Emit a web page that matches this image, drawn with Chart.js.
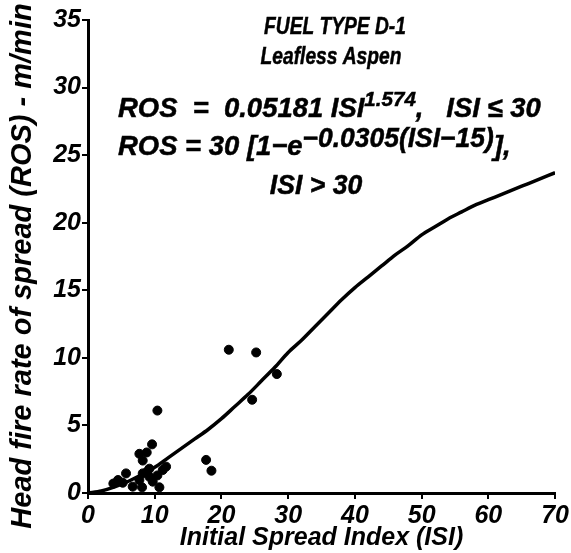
<!DOCTYPE html>
<html>
<head>
<meta charset="utf-8">
<script src="https://cdn.jsdelivr.net/npm/chart.js@4"></script>
<style>
    html, body { margin: 0; padding: 0; background: #fff; }
    #wrap { position: relative; width: 571px; height: 553px; }
</style>
</head>
<body>
<div id="wrap"><canvas id="ros"></canvas></div>
<script>
// Fitted D-1 curve
const curveIsi = [0, 2, 4, 6, 8, 10, 12, 14, 16, 18, 20, 22, 24, 26, 28, 30, 32, 34, 36, 38, 40, 42, 44, 46, 48, 50, 52, 54, 56, 58, 60, 62, 64, 66, 68, 70];
const curveRos = [0, 0.15, 0.45, 0.85, 1.35, 1.9, 2.6, 3.3, 4.0, 4.7, 5.5, 6.4, 7.3, 8.3, 9.3, 10.4, 11.3, 12.3, 13.3, 14.3, 15.2, 16.0, 16.8, 17.6, 18.3, 19.1, 19.7, 20.3, 20.8, 21.3, 21.7, 22.1, 22.5, 22.9, 23.3, 23.7];

// Observed fires
const obsIsi = [9.6, 7.7, 8.8, 8.2, 17.7, 18.5, 5.7, 4.5, 3.8, 5.2, 6.7, 7.7, 8.2, 8.9, 9.2, 9.7, 10.4, 11.2, 11.7, 8.1, 10.7, 9.2, 10.4, 21.1, 25.2, 28.3, 24.6];
const obsRos = [3.6, 2.9, 3.0, 2.4, 2.45, 1.65, 1.45, 0.96, 0.7, 0.76, 0.47, 0.96, 1.45, 1.6, 1.2, 0.84, 1.3, 1.7, 1.95, 0.42, 0.42, 1.8, 6.1, 10.6, 10.4, 8.8, 6.9];

const FONT = '"Liberation Sans", Arial, sans-serif';
const Y_TITLE = 'Head fire rate of spread (ROS) - m/min';

// Title, equations and the (over-long) y title drawn on top of the plot
const notesPlugin = {
    id: 'notes',
    afterDraw(chart) {
        const ctx = chart.ctx;
        ctx.save();
        ctx.fillStyle = '#000';
        ctx.strokeStyle = '#000';
        ctx.lineWidth = 0.5;
        ctx.textBaseline = 'alphabetic';
        ctx.textAlign = 'left';

        function run(parts, x, y, sx, center) {
            let w = 0;
            parts.forEach(function (p) {
                ctx.font = 'italic bold ' + p.size + 'px ' + FONT;
                w += ctx.measureText(p.text).width * sx;
            });
            if (center) x -= w / 2;
            parts.forEach(function (p) {
                ctx.font = 'italic bold ' + p.size + 'px ' + FONT;
                ctx.save();
                ctx.translate(x, y - (p.rise || 0));
                ctx.scale(sx, 1);
                ctx.fillText(p.text, 0, 0);
                ctx.strokeText(p.text, 0, 0);
                ctx.restore();
                x += ctx.measureText(p.text).width * sx;
            });
        }
        run([{ text: 'FUEL TYPE D-1', size: 24 }], 335, 34, 0.8, true);
        run([{ text: 'Leafless Aspen', size: 24 }], 331, 64, 0.8, true);
        run([
            { text: 'ROS  =  0.05181 ISI', size: 28 },
            { text: '1.574', size: 21, rise: 11 },
            { text: ',   ISI \u2264 30', size: 28 }
        ], 118, 117, 0.98);
        run([
            { text: 'ROS = 30 [1\u2212e', size: 28 },
            { text: '\u22120.0305(ISI\u221215)', size: 27, rise: 8 },
            { text: '],', size: 28 }
        ], 118, 155, 0.98);
        run([{ text: 'ISI > 30', size: 28 }], 316, 194, 0.95, true);

        ctx.translate(31, 266);
        ctx.rotate(-Math.PI / 2);
        ctx.font = 'italic bold 29px ' + FONT;
        ctx.textAlign = 'center';
        ctx.fillText(Y_TITLE, 0, 0);
        ctx.restore();
    }
};

new Chart(document.getElementById('ros'), {
    type: 'scatter',
    data: {
        datasets: [
            {
                label: 'Model',
                type: 'line',
                data: curveIsi.map((x, i) => ({ x: x, y: curveRos[i] })),
                borderColor: '#000',
                borderWidth: 3.5,
                pointRadius: 0,
                tension: 0.3,
                fill: false
            },
            {
                label: 'Observed',
                data: obsIsi.map((x, i) => ({ x: x, y: obsRos[i] })),
                backgroundColor: '#000',
                borderColor: '#000',
                pointRadius: 4.5,
                pointHoverRadius: 4.5
            }
        ]
    },
    options: {
        responsive: true,
        maintainAspectRatio: false,
        animation: false,
        layout: { padding: { top: 20, right: 11, left: 6, bottom: 0 } },
        plugins: {
            legend: { display: false },
            tooltip: { enabled: false }
        },
        scales: {
            x: {
                type: 'linear',
                min: 0,
                max: 70,
                ticks: { stepSize: 10, color: '#000', padding: 2, font: { family: FONT, size: 25, weight: 'bold', style: 'italic' } },
                grid: { drawOnChartArea: false, drawTicks: true, tickLength: 6, color: '#000', lineWidth: 2 },
                border: { display: true, color: '#000', width: 3 },
                title: { display: true, text: 'Initial Spread Index (ISI)', color: '#000', padding: { top: 2, bottom: 0 }, font: { family: FONT, size: 25, weight: 'bold', style: 'italic' } },
                afterFit(scale) { scale.height = 60; }
            },
            y: {
                type: 'linear',
                min: 0,
                max: 35,
                ticks: { stepSize: 5, color: '#000', padding: 1, font: { family: FONT, size: 25, weight: 'bold', style: 'italic' } },
                grid: { drawOnChartArea: false, drawTicks: true, tickLength: 6, color: '#000', lineWidth: 2 },
                border: { display: true, color: '#000', width: 3 },
                title: { display: false },
                afterFit(scale) { scale.width = 82; }
            }
        }
    },
    plugins: [notesPlugin]
});
</script>
</body>
</html>
